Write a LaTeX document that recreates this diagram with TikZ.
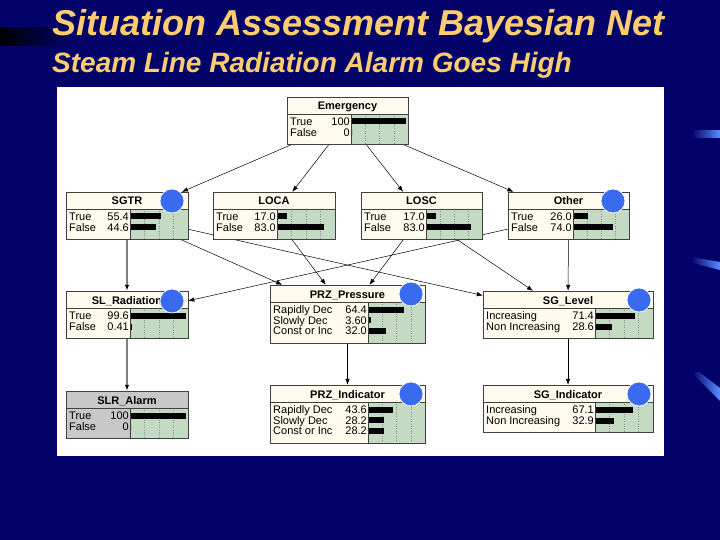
\documentclass[tikz,border=0pt]{standalone}
\usepackage{fontspec}
\setmainfont{Liberation Sans}
\usetikzlibrary{arrows.meta,fit}
\definecolor{navy}{RGB}{2,2,104}
\definecolor{titlec}{RGB}{252,204,110}
\definecolor{cream}{RGB}{255,250,238}
\definecolor{bargreen}{RGB}{196,218,194}
\definecolor{hdgray}{RGB}{200,200,200}
\definecolor{dotblue}{RGB}{58,106,240}
\definecolor{streak}{RGB}{90,140,255}
\tikzset{
  x=1pt, y=-1pt,
  edge/.style={-{Latex[length=6pt,width=4.5pt]}, line width=0.5pt, draw=black},
  grayedge/.style={-{Latex[length=6pt,width=4.5pt,color=black]}, line width=1.3pt, draw=gray},
  boxline/.style={draw=black!75, line width=0.5pt},
  gridline/.style={draw=black!45, line width=0.4pt, dotted},
  boxtitle/.style={font=\fontsize{11}{11}\selectfont\bfseries, anchor=base, inner sep=0pt},
  lab/.style={font=\fontsize{11}{11}\selectfont, inner sep=0pt},
  evid/.style={circle, fill=dotblue, draw=white, line width=0.7pt, minimum size=24pt, inner sep=0pt},
  bnarea/.style={inner sep=0pt}
}
% #1 x1, #2 y1, #3 x2, #4 y2, #5 xd, #6 title, #7 head colour
\newcommand{\bnbox}[7]{%
  \fill[#7] (#1,#2) rectangle (#3,#4);
  \fill[bargreen] (#5,#2+17) rectangle (#3,#4);
  \foreach \q in {0.25,0.5,0.75}{\draw[gridline] ({#5+\q*(#3-#5)},#2+17) -- ({#5+\q*(#3-#5)},#4);}
  \draw[boxline] (#1,#2+17) -- (#3,#2+17);
  \draw[boxline] (#5,#2+17) -- (#5,#4);
  \draw[boxline] (#1,#2) rectangle (#3,#4);
  \node[boxtitle] at ({(#1+#3)/2},#2+13) {#6};
}
% #1 x1, #2 xd, #3 x2, #4 y centre, #5 label, #6 value, #7 percent
\newcommand{\bnrow}[7]{%
  \node[lab, anchor=base west] at (#1+3,#4+4) {#5};
  \node[lab, anchor=base east] at (#2-1,#4+4) {#6};
  \fill[black] (#2+1,#4-3) rectangle ({#2+1+(#3-#2-3)*#7/100},#4+3);
}
\begin{document}
\begin{tikzpicture}
% background
\fill[navy] (0,0) rectangle (720,540);
\useasboundingbox (0,0) rectangle (720,540);
\shade[left color=black, right color=navy] (0,28) rectangle (70,46);
\shade[left color=navy, right color=streak] (692,131) rectangle (720,138);
\shade[left color=navy, right color=streak] (691,257) -- (720,262) -- (720,270) -- (693,263) -- cycle;
\shade[left color=navy, right color=streak] (691,372) -- (699,372) -- (720,388) -- (720,401) -- cycle;
% titles
\node[anchor=base west, inner sep=0pt, text=titlec, font=\fontsize{36}{36}\selectfont\bfseries\itshape] (title) at (52,36) {Situation Assessment Bayesian Net};
\node[anchor=base west, inner sep=0pt, text=titlec, font=\fontsize{28}{28}\selectfont\bfseries\itshape] (subtitle) at (52,73) {Steam Line Radiation Alarm Goes High};
% white panel
\fill[white] (57,87) rectangle (664,456);
% node areas
\node[bnarea, fit={(287,97)(408,144)}] (EM) {};
\node[bnarea, fit={(66,192)(188,239)}] (SGTR) {};
\node[bnarea, fit={(213,192)(335,239)}] (LOCA) {};
\node[bnarea, fit={(361,192)(482,239)}] (LOSC) {};
\node[bnarea, fit={(508,192)(629,239)}] (OTH) {};
\node[bnarea, fit={(66,291)(188,338)}] (SLR) {};
\node[bnarea, fit={(270,285)(425,343)}] (PRZP) {};
\node[bnarea, fit={(483,291)(653,338)}] (SGL) {};
\node[bnarea, fit={(66,391)(188,438)}] (ALM) {};
\node[bnarea, fit={(270,385)(425,443)}] (PRZI) {};
\node[bnarea, fit={(483,385)(653,432)}] (SGI) {};
% connectors
\draw[edge] (EM) -- (SGTR);
\draw[edge] (EM) -- (LOCA);
\draw[edge] (EM) -- (LOSC);
\draw[edge] (EM) -- (OTH);
\draw[grayedge] (SGTR) -- (SLR);
\draw[edge] (SGTR) -- (PRZP);
\draw[edge] (SGTR) -- (SGL);
\draw[edge] (LOCA) -- (PRZP);
\draw[edge] (LOSC) -- (PRZP);
\draw[edge] (LOSC) -- (SGL);
\draw[edge] (OTH) -- (SGL);
\draw[edge] (OTH) -- (SLR);
\draw[grayedge] (SLR) -- (ALM);
\draw[edge] (PRZP) -- (PRZI);
\draw[edge] (SGL) -- (SGI);
% boxes
\bnbox{287}{97}{408}{144}{351}{Emergency}{cream}
\bnrow{287}{351}{408}{121.5}{True}{100}{100}
\bnrow{287}{351}{408}{132.5}{False}{0}{0}

\bnbox{66}{192}{188}{239}{130}{SGTR}{cream}
\bnrow{66}{130}{188}{216.5}{True}{55.4}{55.4}
\bnrow{66}{130}{188}{227.5}{False}{44.6}{44.6}

\bnbox{213}{192}{335}{239}{277}{LOCA}{cream}
\bnrow{213}{277}{335}{216.5}{True}{17.0}{17.0}
\bnrow{213}{277}{335}{227.5}{False}{83.0}{83.0}

\bnbox{361}{192}{482}{239}{426}{LOSC}{cream}
\bnrow{361}{426}{482}{216.5}{True}{17.0}{17.0}
\bnrow{361}{426}{482}{227.5}{False}{83.0}{83.0}

\bnbox{508}{192}{629}{239}{573}{Other}{cream}
\bnrow{508}{573}{629}{216.5}{True}{26.0}{26.0}
\bnrow{508}{573}{629}{227.5}{False}{74.0}{74.0}

\bnbox{66}{291}{188}{338}{130}{SL\_Radiation}{cream}
\bnrow{66}{130}{188}{315.5}{True}{99.6}{99.6}
\bnrow{66}{130}{188}{326.5}{False}{0.41}{0.41}

\bnbox{270}{285}{425}{343}{368}{PRZ\_Pressure}{cream}
\bnrow{270}{368}{425}{309.5}{Rapidly Dec}{64.4}{64.4}
\bnrow{270}{368}{425}{320}{Slowly Dec}{3.60}{3.60}
\bnrow{270}{368}{425}{330.5}{Const or Inc}{32.0}{32.0}

\bnbox{483}{291}{653}{338}{595}{SG\_Level}{cream}
\bnrow{483}{595}{653}{315.5}{Increasing}{71.4}{71.4}
\bnrow{483}{595}{653}{326.5}{Non Increasing}{28.6}{28.6}

\bnbox{66}{391}{188}{438}{130}{SLR\_Alarm}{hdgray}
\bnrow{66}{130}{188}{415.5}{True}{100}{100}
\bnrow{66}{130}{188}{426.5}{False}{0}{0}

\bnbox{270}{385}{425}{443}{368}{PRZ\_Indicator}{cream}
\bnrow{270}{368}{425}{409.5}{Rapidly Dec}{43.6}{43.6}
\bnrow{270}{368}{425}{420}{Slowly Dec}{28.2}{28.2}
\bnrow{270}{368}{425}{430.5}{Const or Inc}{28.2}{28.2}

\bnbox{483}{385}{653}{432}{595}{SG\_Indicator}{cream}
\bnrow{483}{595}{653}{409.5}{Increasing}{67.1}{67.1}
\bnrow{483}{595}{653}{420.5}{Non Increasing}{32.9}{32.9}
% evidence markers
\node[evid] (e1) at (172,201) {};
\node[evid] (e2) at (613,201) {};
\node[evid] (e3) at (172,301) {};
\node[evid] (e4) at (411,294) {};
\node[evid] (e5) at (639,300) {};
\node[evid] (e6) at (411,394) {};
\node[evid] (e7) at (639,394) {};
\end{tikzpicture}
\end{document}
